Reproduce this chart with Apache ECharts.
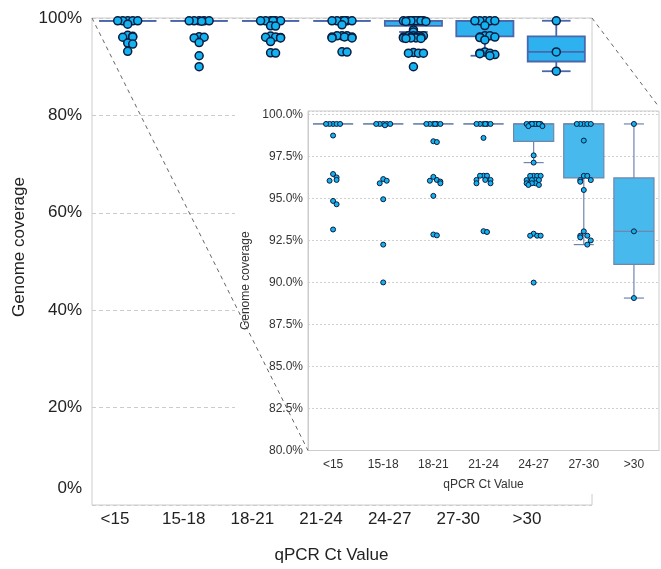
<!DOCTYPE html>
<html><head><meta charset="utf-8">
<script src="https://cdn.jsdelivr.net/npm/echarts@6/dist/echarts.min.js"></script>
<style>html,body{margin:0;padding:0;background:#fff}#c{width:661px;height:569px}</style>
</head><body><div id="c"></div>
<script>
// ---------- data ----------
const categories = ['<15', '15-18', '18-21', '21-24', '24-27', '27-30', '>30'];
const mainTicks = [0, 20, 40, 60, 80, 100];
// box statistics (% genome coverage)
const boxMin    = [99.43, 99.43, 99.43, 99.43, 97.13, 92.25, 89.07];
const boxQ1     = [99.43, 99.43, 99.43, 99.43, 98.39, 96.22, 91.07];
const boxMedian = [99.43, 99.43, 99.43, 99.43, 99.43, 99.43, 93.04];
const boxQ3     = [99.43, 99.43, 99.43, 99.43, 99.43, 99.43, 96.22];
const boxMax    = [99.43, 99.43, 99.43, 99.43, 99.43, 99.43, 99.43];
// individual samples per Ct group
const ptsLt15  = [99.43, 99.43, 99.43, 99.43, 99.43, 98.74, 96.45, 96.25, 96.1, 96.05, 94.85, 94.65, 93.15];
const pts15_18 = [99.43, 99.43, 99.43, 99.43, 99.43, 99.35, 96.15, 96.05, 95.9, 94.95, 92.25, 90.0];
const pts18_21 = [99.43, 99.43, 99.43, 99.43, 99.43, 99.43, 98.4, 98.35, 96.28, 96.1, 96.05, 96.0, 95.9, 95.15, 92.85, 92.8];
const pts21_24 = [99.43, 99.43, 99.43, 99.43, 99.43, 99.43, 98.6, 96.35, 96.35, 96.35, 96.1, 96.1, 96.1, 95.9, 95.9, 93.05, 93.0];
const pts24_27 = [99.43, 99.43, 99.43, 99.43, 99.43, 99.43, 99.43, 99.43, 99.3, 99.3, 97.56, 97.13, 96.34, 96.34, 96.34, 96.34, 96.09, 96.09, 96.09, 96.09, 95.9, 95.9, 95.9, 95.8, 95.8, 92.9, 92.78, 92.78, 92.78, 89.99];
const pts27_30 = [99.43, 99.43, 99.43, 99.43, 99.43, 98.44, 96.34, 96.34, 96.09, 96.09, 95.99, 95.5, 93.04, 92.78, 92.78, 92.68, 92.5, 92.25];
const ptsGt30  = [99.43, 93.04, 89.07];
const pointGroups = [ptsLt15, pts15_18, pts18_21, pts21_24, pts24_27, pts27_30, ptsGt30];

// ---------- layout ----------
const W = 661, H = 569;
const MAIN = {left: 92, right: 69, top: 18, bottom: 64};
const INSET = {left: 308, right: 2, top: 111, bottom: 118.5};
const LBL = {left: 80.7, right: 99.7, top: 18, bottom: 64};
const FONT = '"Liberation Sans", Arial, Helvetica, sans-serif';

const boxData = categories.map((c, i) => [i, boxMin[i], boxQ1[i], boxMedian[i], boxQ3[i], boxMax[i]]);
const pattern = [0, 0.07, -0.07, 0.14, -0.14, 0.035, -0.035, 0.105, -0.105, 0.175, -0.175, 0.21, -0.21, 0.245, -0.245];
function swarm(vals, ci) {
  return vals.map((v, k) => {
    let n = 0;
    for (let j = 0; j < k; j++) if (Math.abs(vals[j] - v) < 0.3) n++;
    return [ci + pattern[n % pattern.length], v];
  });
}
const scatterData = [];
pointGroups.forEach((g, i) => swarm(g, i).forEach(p => scatterData.push(p)));

function boxRenderer(fill, stroke, lw) {
  return function (params, api) {
    const x = api.value(0);
    const lo = api.coord([x, api.value(1)]);
    const q1 = api.coord([x, api.value(2)]);
    const md = api.coord([x, api.value(3)]);
    const q3 = api.coord([x, api.value(4)]);
    const hi = api.coord([x, api.value(5)]);
    const bw = api.size([1, 0])[0] * 0.8;
    const cx = q1[0];
    const cap = bw / 4;
    const ls = {stroke: stroke, lineWidth: lw};
    return {type: 'group', children: [
      {type: 'line', shape: {x1: cx, y1: q3[1], x2: cx, y2: hi[1]}, style: ls},
      {type: 'line', shape: {x1: cx, y1: q1[1], x2: cx, y2: lo[1]}, style: ls},
      {type: 'line', shape: {x1: cx - cap, y1: hi[1], x2: cx + cap, y2: hi[1]}, style: ls},
      {type: 'line', shape: {x1: cx - cap, y1: lo[1], x2: cx + cap, y2: lo[1]}, style: ls},
      {type: 'rect', shape: {x: cx - bw / 2, y: q3[1], width: bw, height: q1[1] - q3[1]},
        style: {fill: fill, stroke: stroke, lineWidth: lw}},
      {type: 'line', shape: {x1: cx - bw / 2, y1: md[1], x2: cx + bw / 2, y2: md[1]}, style: ls}
    ]};
  };
}

const chart = echarts.init(document.getElementById('c'), null, {renderer: 'canvas'});
const hidden = {show: false};
const option = {
  backgroundColor: '#fff',
  animation: false,
  textStyle: {fontFamily: FONT},
  grid: [
    Object.assign({show: true, borderColor: '#cccccc', borderWidth: 1, z: 0}, MAIN),
    Object.assign({show: true, borderColor: '#cccccc', borderWidth: 1, backgroundColor: '#fff', z: 11}, INSET),
    Object.assign({show: false}, LBL)
  ],
  xAxis: [
    {gridIndex: 0, type: 'category', data: categories, axisLine: hidden, axisTick: hidden, axisLabel: hidden, splitLine: hidden},
    {gridIndex: 0, type: 'value', min: -0.5, max: 6.5, show: false},
    {gridIndex: 1, type: 'category', data: categories, z: 11,
      axisLine: {show: true, onZero: false, lineStyle: {color: '#cccccc'}}, axisTick: hidden, splitLine: hidden,
      axisLabel: {fontSize: 12, color: '#333', margin: 8, fontFamily: FONT},
      name: 'qPCR Ct Value', nameLocation: 'middle', nameGap: 28,
      nameTextStyle: {fontSize: 12, color: '#333', fontFamily: FONT}},
    {gridIndex: 1, type: 'value', min: -0.5, max: 6.5, show: false},
    {gridIndex: 2, type: 'category', data: categories,
      axisLine: hidden, axisTick: hidden, splitLine: hidden,
      axisLabel: {fontSize: 17, color: '#222', margin: 9, fontFamily: FONT},
      name: 'qPCR Ct Value', nameLocation: 'middle', nameGap: 45,
      nameTextStyle: {fontSize: 17, color: '#222', fontFamily: FONT, padding: [0, 0, 0, 21]}}
  ],
  yAxis: [
    {gridIndex: 0, type: 'value', min: 0, max: 100, interval: 20,
      axisLine: {show: false, onZero: false}, axisTick: hidden,
      splitLine: {show: true, lineStyle: {color: '#cccccc', type: [4, 3]}},
      axisLabel: {fontSize: 17, color: '#222', margin: 10, fontFamily: FONT,
        formatter: v => v === 0 ? '{z|0%}' : v + '%',
        rich: {z: {fontSize: 17, color: '#222', fontFamily: FONT, padding: [0, 0, 34, 0]}}},
      name: 'Genome coverage', nameLocation: 'middle', nameGap: 61,
      nameTextStyle: {fontSize: 17, color: '#222', fontFamily: FONT, padding: [0, 0, 0, 29]}},
    {gridIndex: 1, type: 'value', min: 80, max: 100.2, interval: 2.5, z: 11,
      axisLine: {show: true, onZero: false, lineStyle: {color: '#cccccc'}}, axisTick: hidden,
      splitLine: {show: true, lineStyle: {color: '#d0d0d0', type: [2, 2]}},
      axisLabel: {fontSize: 12, color: '#333', margin: 5, fontFamily: FONT,
        formatter: v => Math.abs(v / 2.5 - Math.round(v / 2.5)) < 1e-6 ? v.toFixed(1) + '%' : ''},
      name: 'Genome coverage', nameLocation: 'middle', nameGap: 52,
      nameTextStyle: {fontSize: 12, color: '#333', fontFamily: FONT}},
    {gridIndex: 2, type: 'value', show: false}
  ],
  series: [
    {type: 'custom', xAxisIndex: 0, yAxisIndex: 0, data: boxData, z: 2,
      encode: {x: 0, y: [1, 2, 3, 4, 5]},
      renderItem: boxRenderer('#2eb2ef', '#4b67ac', 1.8)},
    {type: 'scatter', xAxisIndex: 1, yAxisIndex: 0, data: scatterData, symbolSize: 8, z: 3,
      itemStyle: {color: '#12b3ef', borderColor: '#0c1c40', borderWidth: 1.5, opacity: 1}},
    {type: 'custom', xAxisIndex: 2, yAxisIndex: 1, data: boxData, z: 12,
      encode: {x: 0, y: [1, 2, 3, 4, 5]},
      renderItem: boxRenderer('#47b9ec', '#6f86ad', 1.2)},
    {type: 'scatter', xAxisIndex: 3, yAxisIndex: 1, data: scatterData, symbolSize: 5, z: 13,
      itemStyle: {color: '#12b3ef', borderColor: '#0c1c40', borderWidth: 1, opacity: 1}}
  ],
  graphic: [
    {type: 'rect', z: 10, silent: true,
      shape: {x: 235, y: INSET.top, width: W - 235, height: 494 - INSET.top},
      style: {fill: '#fff'}},
    {type: 'line', z: 20, silent: true,
      shape: {x1: MAIN.left, y1: MAIN.top, x2: INSET.left, y2: H - INSET.bottom},
      style: {stroke: '#666', lineWidth: 1, lineDash: [4, 4]}},
    {type: 'line', z: 20, silent: true,
      shape: {x1: W - MAIN.right, y1: MAIN.top, x2: W - INSET.right, y2: INSET.top - 4},
      style: {stroke: '#666', lineWidth: 1, lineDash: [4, 4]}}
  ]
};
chart.setOption(option);
</script>
</body></html>
